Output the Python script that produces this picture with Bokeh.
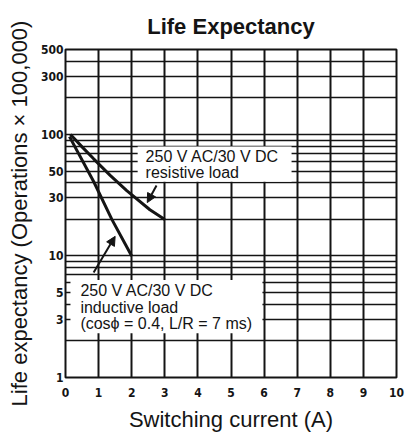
from bokeh.plotting import figure
from bokeh.models import (FixedTicker, BoxAnnotation, Label, Arrow, NormalHead,
                          Range1d, PrintfTickFormatter)
from bokeh.embed import file_html
from bokeh.resources import INLINE

# ---- data ----
x_ticks = [0, 1, 2, 3, 4, 5, 6, 7, 8, 9, 10]
y_label_ticks = [1, 3, 5, 10, 30, 50, 100, 300, 500]
y_grid_ticks = [2, 3, 4, 5, 6, 7, 8, 9, 10, 20, 30, 40, 50, 60, 70, 80, 90,
                100, 200, 300, 400, 500]

resistive_current = [0.15, 0.5, 0.85, 1.35, 1.85, 2.55, 3.0]
resistive_life = [100, 79, 63, 46, 34.5, 24, 20]

inductive_current = [0.12, 0.85, 1.4, 2.0]
inductive_life = [96, 41, 20, 10]

resistive_text = ["250 V AC/30 V DC", "resistive load"]
inductive_text = ["250 V AC/30 V DC", "inductive load", "(cos\u03d5 = 0.4, L/R = 7 ms)"]

INK = "#141414"
SANS = "Liberation Sans"

p = figure(width=406, height=434, y_axis_type="log",
           x_range=Range1d(0, 10), y_range=Range1d(1, 500),
           output_backend="svg", toolbar_location=None,
           min_border_left=65, min_border_right=10,
           min_border_top=49, min_border_bottom=57)

p.title.text = "Life Expectancy"
p.title.align = "center"
p.title.text_font = SANS
p.title.text_font_style = "bold"
p.title.text_font_size = "22px"
p.title.text_color = INK
p.title.standoff = 22

p.outline_line_color = INK
p.outline_line_width = 2
p.background_fill_color = "white"
p.border_fill_color = "white"

p.xaxis.ticker = FixedTicker(ticks=x_ticks)
p.yaxis.ticker = FixedTicker(ticks=y_label_ticks)
p.yaxis.formatter = PrintfTickFormatter(format="%d")
for ax in (p.xaxis, p.yaxis):
    ax.axis_line_color = None
    ax.major_tick_line_color = None
    ax.minor_tick_line_color = None
    ax.major_tick_out = 0
    ax.major_tick_in = 0
    ax.major_label_text_font = "DejaVu Sans Condensed"
    ax.major_label_text_font_style = "bold"
    ax.major_label_text_font_size = "12px"
    ax.major_label_text_color = INK
    ax.axis_label_text_font = SANS
    ax.axis_label_text_font_style = "normal"
    ax.axis_label_text_font_size = "22px"
    ax.axis_label_text_color = INK
p.xaxis.major_label_standoff = 10
p.yaxis.major_label_standoff = 2
p.xaxis.axis_label = "Switching current (A)"
p.yaxis.axis_label = "Life expectancy (Operations \u00d7 100,000)"
p.xaxis.axis_label_standoff = 7
p.yaxis.axis_label_standoff = 6

p.xgrid.ticker = FixedTicker(ticks=x_ticks)
p.ygrid.ticker = FixedTicker(ticks=y_grid_ticks)
p.xgrid.grid_line_color = INK
p.xgrid.grid_line_width = 2
p.ygrid.grid_line_color = INK
p.ygrid.grid_line_width = 1.6

p.line(resistive_current, resistive_life, line_color=INK, line_width=3)
p.line(inductive_current, inductive_life, line_color=INK, line_width=3)

# label boxes
p.add_layout(BoxAnnotation(left=2.18, right=6.83, top=79.6, bottom=40.9,
                           fill_color="white", fill_alpha=1, line_color=None))
p.add_layout(BoxAnnotation(left=0.15, right=5.95, top=6.34, bottom=2.31,
                           fill_color="white", fill_alpha=1, line_color=None))

for txt, yy in zip(resistive_text, [65.8, 48.5]):
    p.add_layout(Label(x=2.42, y=yy, text=txt, text_font=SANS, text_font_size="16px",
                       text_color=INK, text_baseline="middle"))
for txt, yy in zip(inductive_text, [5.24, 3.79, 2.79]):
    p.add_layout(Label(x=0.45, y=yy, text=txt, text_font=SANS, text_font_size="16px",
                       text_color=INK, text_baseline="middle"))

p.add_layout(Arrow(end=NormalHead(size=9, fill_color=INK, line_color=INK),
                   x_start=2.75, y_start=38, x_end=2.47, y_end=27.5,
                   line_width=2, line_color=INK))
p.add_layout(Arrow(end=NormalHead(size=9, fill_color=INK, line_color=INK),
                   x_start=0.85, y_start=7.3, x_end=1.5, y_end=14.5,
                   line_width=2, line_color=INK))

open("out.html", "w").write(file_html(p, INLINE))
